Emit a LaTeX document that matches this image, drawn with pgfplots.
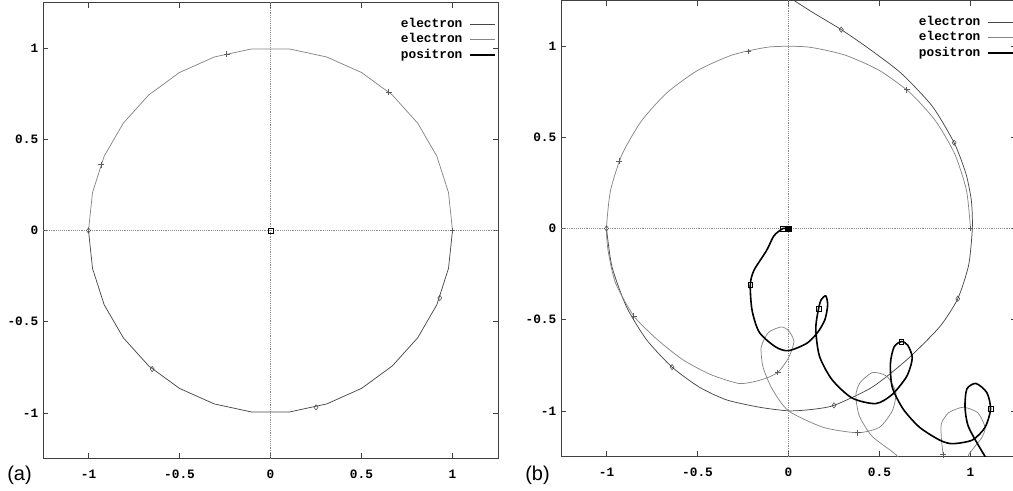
\documentclass[border=0pt]{standalone}
\usepackage{fontspec}
\setmainfont{Liberation Sans}
\setmonofont{Liberation Mono}
\usepackage{pgfplots}
\pgfplotsset{compat=1.18}
\newcommand{\tlfont}{\ttfamily\bfseries\fontsize{9.6pt}{11pt}\selectfont}
\colorlet{colA}{black!72}
\colorlet{colB}{black!48}
\colorlet{colC}{black}
\colorlet{frame}{black!75}
\pgfplotsset{
  panel/.style={
    scale only axis, width=341.25pt, height=342pt, anchor=south west,
    xmin=-1.25, xmax=1.25, ymin=-1.25, ymax=1.25,
    xtick={-1,-0.5,0,0.5,1}, xticklabels={-1,-0.5,0,0.5,1},
    ytick={-1,-0.5,0,0.5,1}, yticklabels={-1,-0.5,0,0.5,1},
    tick align=inside, major tick length=4pt,
    axis line style={frame, line width=0.5pt},
    tick style={frame, line width=0.4pt},
    ticklabel style={font=\tlfont},
    xticklabel style={yshift=-4.8pt},
    legend cell align=right, legend plot pos=right,
    legend image code/.code={\draw[##1] (0pt,0pt) -- (18.75pt,0pt);},
    legend style={at={(0.996,0.969)}, anchor=north east, draw=none, fill=none,
      inner sep=0pt, font=\tlfont, row sep=0pt,
      /tikz/every odd column/.append style={column sep=4pt},
      nodes={inner sep=1.2pt, text height=7pt, text depth=2pt}},
  },
  zeroline/.style={black!45, densely dotted, line width=0.4pt, forget plot},
  lineA/.style={colA, line width=0.55pt, no markers},
  lineB/.style={colB, line width=0.55pt, no markers},
  lineC/.style={colC, line width=1.2pt, no markers},
  marksA/.style={only marks, forget plot, colA, mark=diamond, mark size=2pt, mark options={line width=0.4pt}},
  marksB/.style={only marks, forget plot, colB!70!black, mark=+, mark size=2.2pt, mark options={line width=0.5pt}},
  marksC/.style={only marks, forget plot, colC, mark=square, mark size=1.8pt, mark options={line width=0.4pt}},
}
\begin{document}
\begin{tikzpicture}
\useasboundingbox (0,0) rectangle (759.75pt,368.25pt);
\clip (0,0) rectangle (759.75pt,368.25pt);
% ---------------- panel (a)
\begin{axis}[panel, at={(32.25pt,24.4pt)}]
\addplot[zeroline] coordinates {(-1.3,0) (1.3,0)};
\addplot[zeroline] coordinates {(0,-1.3) (0,1.3)};
\addplot[lineA] coordinates {
(-1,0) (-0.978,-0.208) (-0.914,-0.407) (-0.809,-0.588) (-0.669,-0.743) (-0.5,-0.866)
(-0.309,-0.951) (-0.105,-0.995) (0.105,-0.995) (0.309,-0.951) (0.5,-0.866) (0.669,-0.743)
(0.809,-0.588) (0.914,-0.407) (0.978,-0.208) (1,0)};
\addplot[lineB] coordinates {
(1,0) (0.978,0.208) (0.914,0.407) (0.809,0.588) (0.669,0.743) (0.5,0.866) (0.309,0.951)
(0.105,0.995) (-0.105,0.995) (-0.309,0.951) (-0.5,0.866) (-0.669,0.743) (-0.809,0.588)
(-0.914,0.407) (-0.978,0.208) (-1,0)};
\addplot[lineC] coordinates {(0,0)};
\legend{electron,electron,positron}
\addplot[marksA] coordinates {(-1,0) (-0.65,-0.76) (0.25,-0.97) (0.93,-0.37)};
\addplot[marksB] coordinates {(1,0) (0.65,0.76) (-0.24,0.967) (-0.93,0.36)};
\addplot[marksC] coordinates {(0,0)};
\end{axis}
\node[anchor=west, font=\fontsize{15pt}{17pt}\selectfont, inner sep=0pt] at (5.25pt,12pt) {(a)};
% ---------------- panel (b)
\begin{axis}[panel, at={(420.75pt,25.9pt)}]
\addplot[zeroline] coordinates {(-1.3,0) (1.3,0)};
\addplot[zeroline] coordinates {(0,-1.3) (0,1.3)};
\addplot[lineA, smooth, tension=0.4] coordinates {
(-1,0) (-0.97,-0.21) (-0.89,-0.43) (-0.78,-0.61) (-0.64,-0.76) (-0.49,-0.87) (-0.34,-0.94)
(-0.16,-0.98) (0.0,-1.0) (0.12,-0.993) (0.25,-0.97) (0.46,-0.87) (0.65,-0.72) (0.83,-0.54)
(0.93,-0.385) (0.99,-0.2) (1.01,0.0) (1.005,0.15) (0.975,0.30) (0.91,0.47) (0.79,0.67)
(0.62,0.85) (0.45,0.98) (0.29,1.09) (0.14,1.18) (0.03,1.25) (-0.05,1.30)};
\addplot[lineB, smooth, tension=0.4] coordinates {
(1,0) (0.978,0.208) (0.914,0.407) (0.809,0.588) (0.669,0.743) (0.5,0.866) (0.309,0.951)
(0.105,0.995) (-0.105,0.995) (-0.309,0.951) (-0.5,0.866) (-0.669,0.743) (-0.809,0.588)
(-0.914,0.407) (-0.978,0.208) (-1,0)
(-0.99,-0.13) (-0.95,-0.30) (-0.85,-0.48) (-0.72,-0.61) (-0.58,-0.72) (-0.43,-0.80)
(-0.27,-0.85) (-0.15,-0.83) (-0.06,-0.79) (0.0,-0.71) (0.03,-0.62) (0.0,-0.56) (-0.04,-0.54)
(-0.11,-0.57) (-0.15,-0.65) (-0.14,-0.76) (-0.09,-0.88) (0.0,-1.0) (0.19,-1.09) (0.38,-1.12)
(0.5,-1.09) (0.57,-1.0) (0.59,-0.9) (0.54,-0.81) (0.46,-0.79) (0.39,-0.85) (0.37,-0.92)
(0.39,-1.03) (0.46,-1.14) (0.59,-1.24) (0.68,-1.34) (0.85,-1.38) (0.97,-1.32)
(0.99,-1.24) (1.06,-1.15) (1.08,-1.09) (1.04,-1.01) (0.96,-0.98) (0.88,-1.01)
(0.84,-1.07) (0.84,-1.15) (0.85,-1.24) (0.87,-1.32)};
\addplot[lineC, smooth, tension=0.45] coordinates {
(0,0) (-0.03,0.0) (-0.08,-0.04) (-0.12,-0.12) (-0.19,-0.23) (-0.21,-0.31) (-0.2,-0.45)
(-0.16,-0.57) (-0.07,-0.65) (0.0,-0.67) (0.1,-0.63) (0.16,-0.57) (0.2,-0.5) (0.215,-0.42)
(0.205,-0.37) (0.18,-0.39) (0.165,-0.44) (0.15,-0.55) (0.17,-0.70) (0.24,-0.83)
(0.35,-0.93) (0.48,-0.96) (0.57,-0.91) (0.65,-0.81) (0.68,-0.71) (0.655,-0.64)
(0.62,-0.62) (0.58,-0.65) (0.56,-0.74) (0.57,-0.87) (0.63,-0.99) (0.72,-1.09)
(0.83,-1.16) (0.90,-1.18) (1.01,-1.16) (1.08,-1.09) (1.11,-0.99) (1.09,-0.90)
(1.03,-0.85) (0.98,-0.88) (0.97,-0.98) (0.99,-1.09) (1.08,-1.25) (1.12,-1.3)};
\legend{electron,electron,positron}
\addplot[marksA] coordinates {(-1,0) (-0.64,-0.76) (0.25,-0.97) (0.93,-0.385) (0.91,0.47) (0.29,1.09)};
\addplot[marksB] coordinates {(1,0) (0.65,0.76) (-0.22,0.97) (-0.93,0.37) (-0.85,-0.48) (-0.06,-0.79) (0.38,-1.12) (0.85,-1.24)};
\addplot[marksC] coordinates {(-0.03,0.0) (-0.21,-0.31) (0.165,-0.44) (0.62,-0.62) (1.11,-0.99)};
\addplot[only marks, forget plot, colC, mark=square*, mark size=2pt] coordinates {(0,0)};
\end{axis}
\node[anchor=west, font=\fontsize{15pt}{17pt}\selectfont, inner sep=0pt] at (393.75pt,12pt) {(b)};
\end{tikzpicture}
\end{document}
